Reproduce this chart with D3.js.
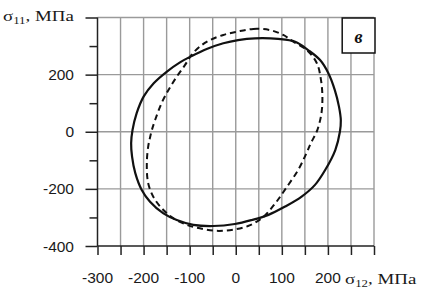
<!DOCTYPE html>
<html>
<head>
<meta charset="utf-8">
<script src="https://cdn.jsdelivr.net/npm/d3@7"></script>
<style>
  body { margin: 0; background: #fff; }
  svg { display: block; }
</style>
</head>
<body>
<div id="chart"></div>
<script>
/// DATA (MPa)
const solidS12 = [5, 42, 92, 129, 157, 183, 201, 215, 224, 228, 226, 216, 194, 172, 143, 107, 71, 35, -2, -49, -92, -128, -157, -186, -204, -218, -225, -227, -224, -215, -200, -178, -150, -121, -97, -63, -27];
const solidS11 = [321, 327, 325, 315, 286, 251, 205, 146, 88, 40, 0, -64, -134, -186, -227, -262, -291, -309, -323, -330, -326, -309, -286, -245, -204, -145, -87, -40, 6, 65, 123, 170, 210, 243, 264, 290, 310];

const dashedS12 = [2, 38, 74, 103, 125, 154, 176, 185, 188, 186, 177, 163, 152, 135, 108, 86, 60, 30, -3, -41, -78, -106, -135, -157, -177, -190, -193, -190, -186, -182, -175, -161, -146, -128, -110, -96, -78, -56, -27];
const dashedS11 = [350, 360, 356, 339, 315, 286, 240, 181, 123, 65, 6, -40, -80, -135, -200, -250, -298, -328, -342, -347, -338, -326, -303, -274, -233, -180, -110, -52, -20, 6, 41, 100, 146, 193, 234, 269, 298, 321, 339];

const xTicks = [-300, -250, -200, -150, -100, -50, 0, 50, 100, 150, 200, 250, 300];
const xLabels = [-300, -200, -100, 0, 100, 200];
const yMajor = [-400, -200, 0, 200, 400];
const yMinor = [-300, -100, 100, 300];
const yLabels = [-400, -200, 0, 200];
const panelLetter = 'в';

let width = 431, height = 294;

/// SETUP scales
let x = d3.scaleLinear().domain([-300, 300]).range([97.5, 374]);
let y = d3.scaleLinear().domain([-400, 400]).range([246, 17.5]);

let svg = d3.select('#chart')
  .append('svg')
  .attr('width', width)
  .attr('height', height);

/// GRID
let grid = svg.append('g')
  .attr('stroke', '#9a9a9a')
  .attr('stroke-width', 1.4);

grid.selectAll('.vgrid')
  .data(xTicks.slice(1))
  .join('line')
  .attr('x1', d => x(d)).attr('x2', d => x(d))
  .attr('y1', y(400)).attr('y2', y(-400));

grid.selectAll('.hgrid')
  .data(yMajor.slice(1))
  .join('line')
  .attr('x1', x(-300)).attr('x2', x(300))
  .attr('y1', d => y(d)).attr('y2', d => y(d));

/// AXES
let xAxis = svg.append('g')
  .attr('transform', `translate(0,${y(-400)})`)
  .call(d3.axisBottom(x).tickValues(xTicks).tickSize(9).tickFormat(''));
xAxis.select('.domain').attr('d', `M${x(-300)},0H${x(300)}`);

let yAxis = svg.append('g')
  .attr('transform', `translate(${x(-300)},0)`)
  .call(d3.axisLeft(y).tickValues(yMajor).tickSize(12).tickFormat(''));
yAxis.select('.domain').attr('d', `M0,${y(400)}V${y(-400)}`);

svg.append('g')
  .attr('transform', `translate(${x(-300)},0)`)
  .call(d3.axisLeft(y).tickValues(yMinor).tickSize(8).tickFormat(''))
  .select('.domain').remove();

svg.selectAll('.domain, .tick line')
  .attr('stroke', '#222')
  .attr('stroke-width', 1.5);

/// TICK LABELS
svg.append('g')
  .selectAll('text')
  .data(xLabels)
  .join('text')
  .attr('x', d => x(d))
  .attr('y', 283)
  .attr('text-anchor', 'middle')
  .style('font-family', 'Liberation Sans, Arial, sans-serif')
  .style('font-size', '15.5px')
  .style('fill', '#1a1a1a')
  .text(d => d);

svg.append('g')
  .selectAll('text')
  .data(yLabels)
  .join('text')
  .attr('x', 74)
  .attr('y', d => y(d))
  .attr('dy', '0.36em')
  .attr('text-anchor', 'end')
  .style('font-family', 'Liberation Sans, Arial, sans-serif')
  .style('font-size', '15.5px')
  .style('fill', '#1a1a1a')
  .text(d => d);

/// AXIS TITLES
function axisTitle(px, py, sub) {
  let t = svg.append('text')
    .attr('transform', `translate(${px},${py}) scale(1.35,1)`)
    .style('font-family', 'Liberation Serif, Times New Roman, serif')
    .style('font-size', '14px')
    .style('fill', '#1a1a1a');
  t.append('tspan').text('σ');
  t.append('tspan').attr('dy', 3).style('font-size', '9.5px').text(sub);
  t.append('tspan').attr('dy', -3).text(', МПа');
}
axisTitle(3, 20.5, '11');
axisTitle(345, 283.5, '12');

/// CURVES
let line = d3.line()
  .x(d => x(d[0]))
  .y(d => y(d[1]))
  .curve(d3.curveCatmullRomClosed.alpha(0.5));

svg.append('path')
  .datum(solidS12.map((d, i) => [d, solidS11[i]]))
  .attr('d', line)
  .attr('fill', 'none')
  .attr('stroke', '#111')
  .attr('stroke-width', 2.2);

svg.append('path')
  .datum(dashedS12.map((d, i) => [d, dashedS11[i]]))
  .attr('d', line)
  .attr('fill', 'none')
  .attr('stroke', '#111')
  .attr('stroke-width', 2)
  .attr('stroke-dasharray', '6,4');

/// PANEL LETTER
svg.append('rect')
  .attr('x', x(231))
  .attr('y', y(400) + 0.5)
  .attr('width', x(300) - x(231) + 1)
  .attr('height', 35)
  .attr('fill', '#fff')
  .attr('stroke', '#111')
  .attr('stroke-width', 1.5);

svg.append('text')
  .attr('x', (x(231) + x(300)) / 2 + 0.5)
  .attr('y', 42.5)
  .attr('text-anchor', 'middle')
  .style('font-family', 'Liberation Serif, Times New Roman, serif')
  .style('font-style', 'italic')
  .style('font-weight', 'bold')
  .style('font-size', '18px')
  .style('fill', '#111')
  .text(panelLetter);
</script>
</body>
</html>
